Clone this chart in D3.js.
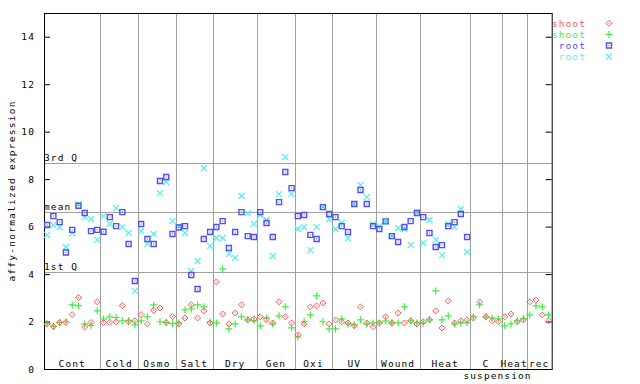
<!DOCTYPE html>
<html>
<head>
<meta charset="utf-8">
<script src="https://cdn.jsdelivr.net/npm/d3@7"></script>
<style>
  html, body { margin: 0; padding: 0; background: #fff; }
  svg { display: block; }
  text { font-family: "DejaVu Sans Mono", "Liberation Mono", monospace; font-size: 9.5px; letter-spacing: 1.1px; }
</style>
</head>
<body>
<svg id="chart" width="640" height="384"></svg>
<script>
// ---- data ----
const groupNames = ["Cont","Cold","Osmo","Salt","Dry","Gen","Oxi","UV","Wound","Heat","C","Heat","rec"];
const groupSizes = [9,6,6,6,7,6,6,7,7,8,5,4,4];
const subLabel = "suspension";

const shootRed = [1.90,1.79,1.96,1.96,2.29,3.01,1.77,1.96,2.83,
  1.96,1.96,1.99,2.67,1.99,2.03,
  2.29,1.90,2.47,2.57,1.96,2.21,
  1.90,2.15,2.70,2.15,2.45,1.94,
  3.67,2.32,1.90,2.36,2.70,2.07,2.11,
  2.20,2.07,1.94,2.83,2.20,1.94,
  1.44,1.90,2.62,2.66,2.78,1.90,
  2.07,1.99,1.94,1.82,2.62,1.94,1.78,
  1.94,2.20,1.94,2.36,1.94,2.03,1.90,
  1.99,2.07,2.45,1.73,2.87,1.94,2.03,2.07,
  2.15,2.83,2.20,2.03,1.99,
  2.20,2.32,1.99,2.07,
  2.83,2.91,2.28,2.03];
const shootGreen = [1.91,1.80,1.96,1.99,2.70,2.67,1.90,1.83,2.45,
  2.11,2.20,2.17,2.03,2.03,1.86,
  2.03,2.20,2.70,1.99,1.96,1.91,
  1.94,2.49,2.53,2.70,2.62,1.99,
  1.94,4.22,1.69,1.90,2.20,2.07,2.03,
  1.82,2.15,1.90,2.24,2.62,1.73,
  1.35,1.99,2.28,3.08,1.99,1.69,
  1.69,2.11,1.90,1.86,2.07,1.90,1.94,
  1.94,2.03,1.94,1.94,2.62,2.03,1.94,
  1.94,2.07,3.29,2.07,2.24,1.90,1.94,1.94,
  2.20,2.70,2.20,2.15,2.11,
  1.82,1.90,2.03,2.11,
  2.28,2.66,2.62,2.28];
const rootBlue = [6.07,6.44,6.19,4.91,5.86,6.88,6.57,5.81,5.86,
  5.78,6.40,6.02,6.61,5.27,3.71,
  6.11,5.48,5.27,7.92,8.09,5.69,
  5.96,6.02,3.96,3.37,5.48,5.77,
  5.98,6.23,5.10,5.77,6.61,5.60,5.56,
  6.61,6.15,5.56,7.03,8.30,7.62,
  6.44,6.49,5.65,5.48,6.82,6.53,
  6.40,6.02,5.77,6.95,7.54,6.95,6.02,
  5.90,6.22,5.60,5.35,5.98,6.23,6.57,
  6.40,5.73,5.14,5.22,6.02,6.19,6.53,5.56];
const rootCyan = [5.65,6.07,5.98,5.14,5.73,6.95,6.40,6.32,5.44,
  6.44,6.11,6.78,5.98,5.73,3.29,
  5.81,5.27,5.69,7.41,7.88,6.23,
  6.02,5.73,4.13,4.55,8.46,5.18,
  5.52,5.52,4.85,4.68,7.29,6.57,6.11,
  6.49,6.28,4.76,7.37,8.93,7.37,
  5.90,5.98,5.01,5.98,6.82,6.32,
  5.90,6.15,5.52,6.95,7.75,7.24,6.11,
  6.02,6.22,5.60,5.94,5.90,5.22,6.61,
  5.31,6.28,5.44,4.80,6.11,5.98,6.74,4.93];

const refLines = [ {label:"3rd Q", value:8.67}, {label:"mean", value:6.62}, {label:"1st Q", value:4.07} ];
const yTicks = [0,2,4,6,8,10,12,14];
const yTitle = "affy-normalized expression";
const legendItems = [
  {label:"shoot", key:"red"},
  {label:"shoot", key:"green"},
  {label:"root",  key:"blue"},
  {label:"root",  key:"cyan"}
];

// ---- layout / style ----
const colors = { red:"#ff5a5a", green:"#40f040", blue:"#5050f0", cyan:"#50f0f0" };
const nSamples = d3.sum(groupSizes);
const svg = d3.select("#chart");
const x = d3.scaleLinear().domain([0, nSamples]).range([44, 551.7]);
const y = d3.scaleLinear().domain([0, 15]).range([369, 13]);
const gridColor = "#a0a0a0";

// group separators
let cum = 0;
const bounds = groupSizes.map(s => { const b = [cum, cum + s]; cum += s; return b; });
svg.append("g").selectAll("line").data(bounds.slice(0, -1)).join("line")
  .attr("x1", d => Math.round(x(d[1])) + 0.5).attr("x2", d => Math.round(x(d[1])) + 0.5)
  .attr("y1", y(15)).attr("y2", y(0))
  .attr("stroke", gridColor).attr("stroke-width", 1);

// reference lines
const rl = svg.append("g");
rl.selectAll("line").data(refLines).join("line")
  .attr("x1", x(0)).attr("x2", x(nSamples))
  .attr("y1", d => Math.round(y(d.value)) + 0.5).attr("y2", d => Math.round(y(d.value)) + 0.5)
  .attr("stroke", gridColor).attr("stroke-width", 1);
rl.selectAll("text").data(refLines).join("text")
  .attr("x", x(0)).attr("y", d => y(d.value) - 2)
  .attr("fill", "#000").text(d => d.label);

// axes frame
const axL = d3.axisLeft(y).tickValues(yTicks).tickSize(-6).tickPadding(9).tickFormat(d3.format("d"));
const gL = svg.append("g").attr("transform", `translate(${x(0)},0)`).call(axL);
const axR = d3.axisRight(y).tickValues(yTicks.filter(v => v > 0)).tickSize(-6).tickFormat("");
const gR = svg.append("g").attr("transform", `translate(${x(nSamples)},0)`).call(axR);
[gL, gR].forEach(g => {
  g.select(".domain").remove();
  g.selectAll("line").attr("stroke", "#000");
  g.selectAll("text").attr("fill", "#000")
    .style("font-family", "DejaVu Sans Mono, monospace").style("font-size", "9.5px").style("letter-spacing", "1.1px");
});
gL.selectAll(".tick line").filter(d => d === 0).remove();
svg.append("rect").attr("x", x(0) + 0.5).attr("y", y(15) + 0.5)
  .attr("width", x(nSamples) - x(0)).attr("height", y(0) - y(15))
  .attr("fill", "none").attr("stroke", "#000").attr("stroke-width", 1);

// y title
svg.append("text").attr("transform", `translate(15,${(y(0) + y(15)) / 2}) rotate(-90)`)
  .attr("text-anchor", "middle").attr("fill", "#000").style("letter-spacing", "1.25px").text(yTitle);

// group labels
svg.append("g").selectAll("text").data(bounds).join("text")
  .attr("x", d => x((d[0] + d[1]) / 2)).attr("y", y(0) - 2)
  .attr("text-anchor", "middle").attr("fill", "#000")
  .text((d, i) => groupNames[i]);
svg.append("text").attr("x", x(bounds[10][1]) - 4).attr("y", 379)
  .attr("text-anchor", "middle").attr("fill", "#000").text(subLabel);

// markers
const shapes = {
  red: "M0,-3L3,0L0,3L-3,0Z",
  green: "M-3.5,0H3.5M0,-3.5V3.5",
  blue: "M-2.5,-2.5H2.5V2.5H-2.5Z",
  cyan: "M-3,-3L3,3M-3,3L3,-3"
};
function drawMarker(sel, key) {
  sel.append("path").attr("d", shapes[key]).attr("fill", "none")
    .attr("stroke", colors[key]).attr("stroke-width", key === "blue" ? 1.4 : (key === "red" ? 1 : 1.2));
  if (key === "blue" || key === "red") sel.append("rect").attr("x", -0.5).attr("y", -0.5).attr("width", 1).attr("height", 1).attr("fill", colors[key]);
}
const seriesList = [ ["cyan", rootCyan], ["blue", rootBlue], ["green", shootGreen], ["red", shootRed] ];
seriesList.forEach(([key, vals]) => {
  const g = svg.append("g");
  g.selectAll("g").data(vals).join("g")
    .attr("transform", (v, i) => `translate(${x(i + 0.5)},${y(v)})`)
    .each(function() { drawMarker(d3.select(this), key); });
});

// legend
const lg = svg.append("g");
legendItems.forEach((d, i) => {
  const yy = 23.3 + i * 11.13;
  lg.append("text").attr("x", 586).attr("y", yy).attr("dy", "0.35em")
    .attr("text-anchor", "end").attr("fill", colors[d.key]).text(d.label);
  const m = lg.append("g").attr("transform", `translate(609,${yy})`);
  drawMarker(m, d.key);
});
</script>
</body>
</html>
